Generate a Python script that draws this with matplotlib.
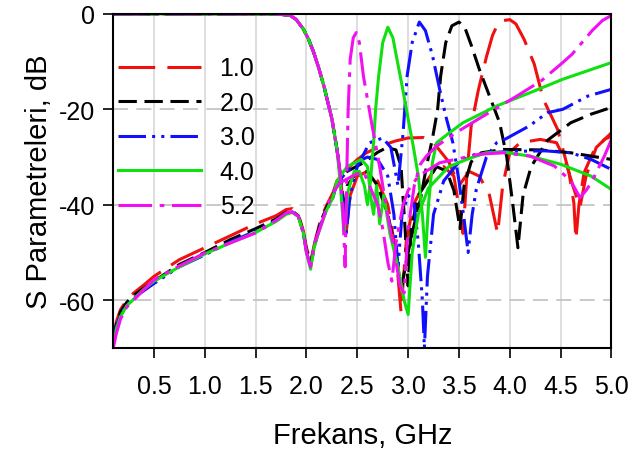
import matplotlib
matplotlib.use("Agg")
import matplotlib.pyplot as plt

plt.rcParams["font.family"] = ["Liberation Sans", "DejaVu Sans"]
plt.rcParams["axes.unicode_minus"] = False

# === Data (frequency in GHz, level in dB) ===
labels = ["1.0", "2.0", "3.0", "4.0", "5.2"]
colors = ["#f01010", "#000000", "#1010ff", "#10e010", "#f010f0"]

# shared low-pass roll-off of the transmission curves
roll_f = [0.1, 0.5, 1.0, 1.5, 1.75, 1.84, 1.9, 1.97, 2.02, 2.07, 2.12, 2.17, 2.21, 2.25, 2.30]
roll_db = [0, 0, 0, 0, -0.1, -0.3, -1.2, -3.2, -5.3, -8, -11.3, -15, -18.5, -22, -28.4]

low_f = [0.1, 0.13, 0.17, 0.23, 0.3, 0.4, 0.5, 0.75, 1.0, 1.25, 1.5, 1.7, 1.8,
         1.86, 1.92, 1.97, 2.0, 2.04, 2.08, 2.14, 2.2, 2.26]

# 1.0
red_t_f = [2.33, 2.36, 2.39, 2.43, 2.5, 2.6, 2.7, 2.8, 2.88, 2.93, 2.98, 3.05, 3.15,
           3.25, 3.35, 3.45, 3.54, 3.58, 3.62, 3.69, 3.77, 3.83, 3.88, 3.93, 4.0,
           4.06, 4.14, 4.24, 4.33, 4.47, 4.58, 4.63, 4.65, 4.68, 4.73, 4.82, 4.93, 5.0]
red_t_db = [-33, -40, -46, -38, -34, -33, -35, -40, -50, -62.5, -48, -40, -36,
            -33, -32, -34, -46, -33, -23.5, -16, -9, -4.5, -2.2, -1.4, -1.2,
            -2.1, -5.3, -10.5, -17.9, -24.2, -33, -39.6, -47.3, -40, -33.3, -29, -26.3, -25.6]
red_r_f = low_f + [2.3, 2.4, 2.5, 2.59, 2.75, 2.88, 3.0, 3.15, 3.25, 3.4, 3.5, 3.6,
                   3.7, 3.8, 3.88, 3.93, 4.0, 4.1, 4.3, 4.46, 4.55, 4.62, 4.69, 4.75,
                   4.85, 5.0]
red_r_db = [-68, -64.5, -62, -60, -58.5, -56.8, -55, -51.5, -49, -46.5, -44, -42.3, -41,
            -40.8, -42, -45.5, -49, -52, -48, -43, -40, -37.5] + \
           [-35, -32.5, -30.5, -29.1, -27.5, -26.6, -26, -25.9, -27, -31, -36, -33,
            -34, -38, -46, -36, -29, -27, -26.3, -27, -31, -36, -40.5, -34,
            -28, -24.9]

# 2.0
blk_t_f = [2.34, 2.37, 2.40, 2.5, 2.6, 2.7, 2.8, 2.88, 2.93, 2.98, 3.05, 3.12, 3.18,
           3.24, 3.29, 3.32, 3.37, 3.43, 3.5, 3.56, 3.62, 3.70, 3.80, 3.90, 3.97,
           4.03, 4.08, 4.13, 4.21, 4.37, 4.6, 4.8, 5.0]
blk_t_db = [-35, -42, -36, -33, -33, -36, -42, -50, -58, -52, -45, -39, -32,
            -26, -20, -13, -6, -2.5, -1.7, -3, -6.5, -11.6, -17.2, -22.8, -30,
            -40, -49, -38, -32, -26.5, -22.8, -21, -19.6]
blk_r_f = low_f + [2.3, 2.4, 2.56, 2.7, 2.79, 2.88, 2.93, 2.97, 3.0, 3.03, 3.1, 3.18,
                   3.28, 3.38, 3.45, 3.51, 3.55, 3.62, 3.72, 3.94, 4.3, 4.6, 5.0]
blk_r_db = [-68.5, -65, -62.5, -60.5, -59, -57.5, -56, -52.5, -50, -47.3, -45, -43, -41.6,
            -41.3, -42.3, -46, -49.5, -52.5, -48.5, -43.5, -40.5, -38] + \
           [-35.5, -33, -31.2, -29, -28, -28.5, -32, -45, -57, -45, -38, -35.4,
            -32, -33, -37, -45, -36, -31, -29.1, -28.4, -28.5, -29.1, -30.5]

# 3.0
blu_t_f = [2.33, 2.36, 2.39, 2.43, 2.5, 2.62, 2.75, 2.83, 2.90, 2.95, 2.99, 3.04,
           3.11, 3.17, 3.24, 3.31, 3.37, 3.44, 3.5, 3.55, 3.59, 3.63, 3.67, 3.77,
           3.87, 3.95, 4.19, 4.37, 4.52, 4.77, 5.0]
blu_t_db = [-33, -40, -46, -38, -32, -27, -26, -28, -36, -25, -13, -6,
            -1.7, -3.5, -8.8, -15.8, -21.4, -27, -35, -43, -50, -42, -36.8, -30,
            -27, -26.3, -23.5, -20.7, -20, -17.2, -15.8]
blu_r_f = low_f + [2.3, 2.4, 2.5, 2.6, 2.7, 2.8, 2.86, 2.9, 2.94, 3.0, 3.06, 3.1,
                   3.14, 3.16, 3.19, 3.25, 3.35, 3.5, 3.65, 3.8, 4.0, 4.35, 4.6, 4.8, 5.0]
blu_r_db = [-69, -65.5, -63, -61, -59.5, -58, -56.5, -53, -50.5, -47.8, -45.5, -43.3, -41.8,
            -41.5, -42.3, -46, -49.8, -53, -48.5, -44, -41, -38.5] + \
           [-35.5, -33, -31, -30, -30.5, -34, -42, -53, -42, -38, -40, -48,
            -60, -70, -55, -42, -35, -31, -29.5, -29.1, -28.8, -28.7, -29.1, -30.5, -32.6]

# 4.0
grn_t_f = [2.33, 2.37, 2.41, 2.47, 2.52, 2.57, 2.60, 2.63, 2.66, 2.68, 2.71, 2.75,
           2.80, 2.85, 2.89, 2.94, 3.0, 3.05, 3.1, 3.14, 3.17, 3.2, 3.24, 3.28,
           3.4, 3.54, 3.87, 4.2, 4.52, 5.0]
grn_t_db = [-35, -46, -37, -33, -33, -36, -40, -35, -27, -20, -13, -6,
            -2.8, -5, -9.5, -15, -22, -27.7, -34, -42, -51, -40, -31, -27,
            -25, -22.8, -19.3, -16.5, -13.7, -10.2]
grn_r_f = low_f + [2.3, 2.4, 2.54, 2.6, 2.63, 2.66, 2.69, 2.72, 2.76, 2.82, 2.9, 2.96,
                   3.0, 3.04, 3.1, 3.2, 3.4, 3.6, 3.77, 3.95, 4.2, 4.5, 4.8, 5.0]
grn_r_db = [-69.5, -66, -63.5, -61.2, -59.8, -57.7, -56, -53, -50.3, -48, -45.8, -43.5, -42,
            -41.6, -42.5, -46, -50, -53.5, -48.5, -44.5, -41, -38.5] + \
           [-35, -32, -30.5, -32, -38, -42, -36, -44, -38, -46, -53, -60,
            -63, -50, -42, -36.5, -32, -30.3, -29.1, -29, -29.8, -31.5, -34, -36.8]

# 5.2
mag_t_f = [2.33, 2.36, 2.38, 2.40, 2.41, 2.43, 2.46, 2.49, 2.52, 2.56, 2.64, 2.72,
           2.78, 2.85, 2.92, 2.96, 3.0, 3.06, 3.12, 3.18, 3.28, 3.5, 3.74, 4.07,
           4.31, 4.52, 4.61, 4.81, 4.91, 5.0]
mag_t_db = [-33, -42, -53, -30, -20, -9.5, -5, -3.9, -6, -13, -22.8, -32,
            -40, -48, -57, -58.5, -45, -36, -31.5, -29.8, -27.7, -24.5, -21.4, -17.2,
            -14, -10.2, -8.5, -3.5, -1.4, -0.3]
mag_r_f = low_f + [2.33, 2.45, 2.56, 2.62, 2.7, 2.75, 2.8, 2.84, 2.88, 2.95, 3.0, 3.1,
                   3.31, 3.7, 3.94, 4.2, 4.44, 4.6, 4.69, 4.75, 4.8, 4.93, 5.0]
mag_r_db = [-70, -67, -64, -61.5, -60, -57.8, -55.7, -52.8, -50.1, -48, -45.9, -43.3, -41.7,
            -41.5, -42.4, -46, -50, -53, -48, -44.5, -40.5, -37.5] + \
           [-35.4, -34, -33, -36, -40, -45, -52, -56, -48, -40, -37, -34,
            -31.2, -29.4, -29.1, -29.8, -31.9, -35, -38.5, -37, -35.4, -29.8, -26.3]

curves = [
    (red_t_f, red_t_db, red_r_f, red_r_db),
    (blk_t_f, blk_t_db, blk_r_f, blk_r_db),
    (blu_t_f, blu_t_db, blu_r_f, blu_r_db),
    (grn_t_f, grn_t_db, grn_r_f, grn_r_db),
    (mag_t_f, mag_t_db, mag_r_f, mag_r_db),
]
dash_styles = [(0, (12, 4)), (0, (6, 2.5)), (0, (9, 2, 1, 2, 1, 2)), "-", (0, (11, 2.5, 1.5, 2.5))]

# === Plot ===
fig = plt.figure(figsize=(6.33, 4.52), dpi=100)
ax = fig.add_axes([0.179, 0.228, 0.787, 0.739])

for (tf, tdb, rf, rdb), col, ls, lab in zip(curves, colors, dash_styles, labels):
    ax.plot(rf, rdb, color=col, ls=ls, lw=2.2)
    ax.plot(roll_f + tf, roll_db + tdb, color=col, ls=ls, lw=2.2, label=lab)

ax.set_xlim(0.1, 5.0)
ax.set_ylim(-70, 0)
ax.set_xticks([0.5, 1.0, 1.5, 2.0, 2.5, 3.0, 3.5, 4.0, 4.5, 5.0])
ax.set_yticks([0, -20, -40, -60])
ax.tick_params(direction="out", length=7, width=1.2, labelsize=18, pad=12)
ax.tick_params(axis="y", pad=6)

ax.grid(axis="x", color="#d8d8d8", lw=1.2)
ax.grid(axis="y", color="#c0c0c0", lw=1.2, ls=(0, (9, 5)))
ax.set_axisbelow(True)
for sp in ax.spines.values():
    sp.set_linewidth(1.5)

ax.set_xlabel("Frekans, GHz", fontsize=21, labelpad=16)
ax.set_ylabel("S Parametreleri, dB", fontsize=21, labelpad=4)

ax.legend(loc="upper left", bbox_to_anchor=(-0.035, 0.94), frameon=False,
          fontsize=18, handlelength=3.3, labelspacing=0.42, handletextpad=0.75)

fig.savefig("out.png", dpi=100)
